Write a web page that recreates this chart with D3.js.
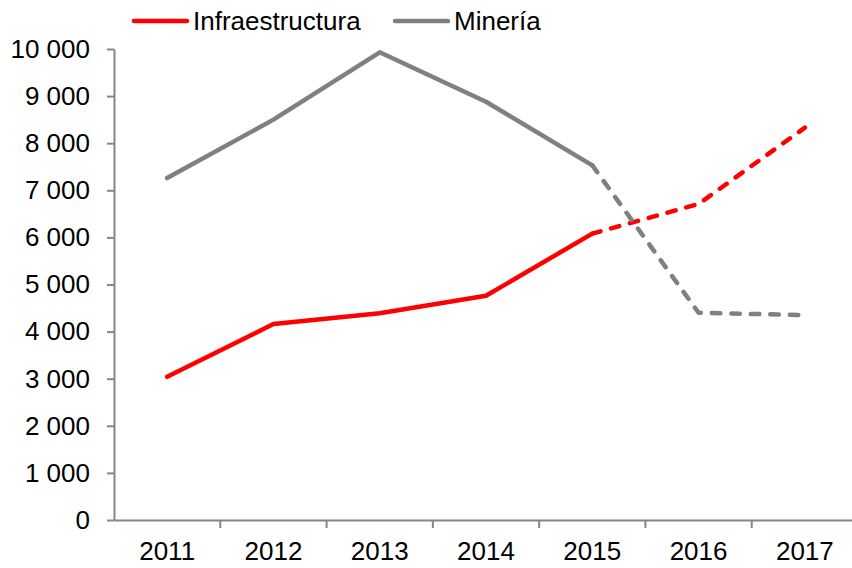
<!DOCTYPE html>
<html>
<head>
<meta charset="utf-8">
<script src="https://cdn.jsdelivr.net/npm/d3@7"></script>
<style>
  body { margin: 0; background: #fff; }
  svg text { font-family: "Liberation Sans", Arial, sans-serif; fill: #000; }
</style>
</head>
<body>
<script>
const width = 852,
      height = 568;

// data (2016-2017 drawn dashed = projection)
const years = ["2011", "2012", "2013", "2014", "2015", "2016", "2017"];
const infraestructura = [3040, 4160, 4390, 4760, 6080, 6710, 8330];
const mineria = [7260, 8500, 9930, 8880, 7530, 4400, 4350];
const yTicks = [0, 1000, 2000, 3000, 4000, 5000, 6000, 7000, 8000, 9000, 10000];
const lastSolid = 4; // index of 2015, dashes start there

const series = [
  {name: "Infraestructura", values: infraestructura, color: "#ff0000"},
  {name: "Minería", values: mineria, color: "#808080"}
];

const svg = d3.select("body")
              .append("svg")
              .attr("width", width)
              .attr("height", height);

const x = d3.scaleBand()
            .domain(years)
            .range([114, 858]);

const y = d3.scaleLinear()
            .domain([0, 10000])
            .range([520, 49]);

const fmt = d => d3.format(",")(d).replace(/,/g, " ");

// y axis
const yAxis = svg.append("g")
                 .attr("transform", "translate(114,0)")
                 .call(d3.axisLeft(y).tickValues(yTicks).tickFormat(fmt).tickSize(7).tickPadding(17).tickSizeOuter(0));

// x axis
const xAxis = svg.append("g")
                 .attr("transform", "translate(0,520)")
                 .call(d3.axisBottom(x).tickSize(0).tickPadding(22).tickSizeOuter(0));

xAxis.selectAll(".tick line").remove();
xAxis.selectAll(".tickmark")
     .data(years.slice(1))
     .enter()
     .append("line")
     .attr("x1", d => x(d))
     .attr("x2", d => x(d))
     .attr("y1", 0)
     .attr("y2", 8);

[yAxis, xAxis].forEach(function(g) {
    g.select(".domain").attr("stroke", "#868686").attr("stroke-width", 2);
    g.selectAll("line").attr("stroke", "#868686").attr("stroke-width", 2);
    g.selectAll("text").style("font-size", "26px").attr("fill", "#000");
});

const line = d3.line()
               .x((d, i) => x(d.year) + x.bandwidth() / 2)
               .y(d => y(d.value));

series.forEach(function(s) {
    var pts = s.values.map((v, i) => ({year: years[i], value: v}));
    svg.append("path")
       .datum(pts.slice(0, lastSolid + 1))
       .attr("fill", "none")
       .attr("stroke", s.color)
       .attr("stroke-width", 4.5)
       .attr("stroke-linejoin", "round")
       .attr("stroke-linecap", "round")
       .attr("d", line);
    svg.append("path")
       .datum(pts.slice(lastSolid))
       .attr("fill", "none")
       .attr("stroke", s.color)
       .attr("stroke-width", 4.5)
       .attr("stroke-linejoin", "round")
       .attr("stroke-linecap", "round")
       .attr("stroke-dasharray", "8.5 11")
       .attr("d", line);
});

// legend
const legendX = [134, 395];
const legend = svg.append("g")
                  .selectAll("g")
                  .data(series)
                  .enter()
                  .append("g")
                  .attr("transform", (d, i) => "translate(" + legendX[i] + ",21)");

legend.append("line")
      .attr("x1", 0)
      .attr("x2", 53)
      .attr("stroke", d => d.color)
      .attr("stroke-width", 4.5)
      .attr("stroke-linecap", "round");

legend.append("text")
      .attr("x", 59)
      .attr("y", 9)
      .style("font-size", "26px")
      .text(d => d.name);
</script>
</body>
</html>
